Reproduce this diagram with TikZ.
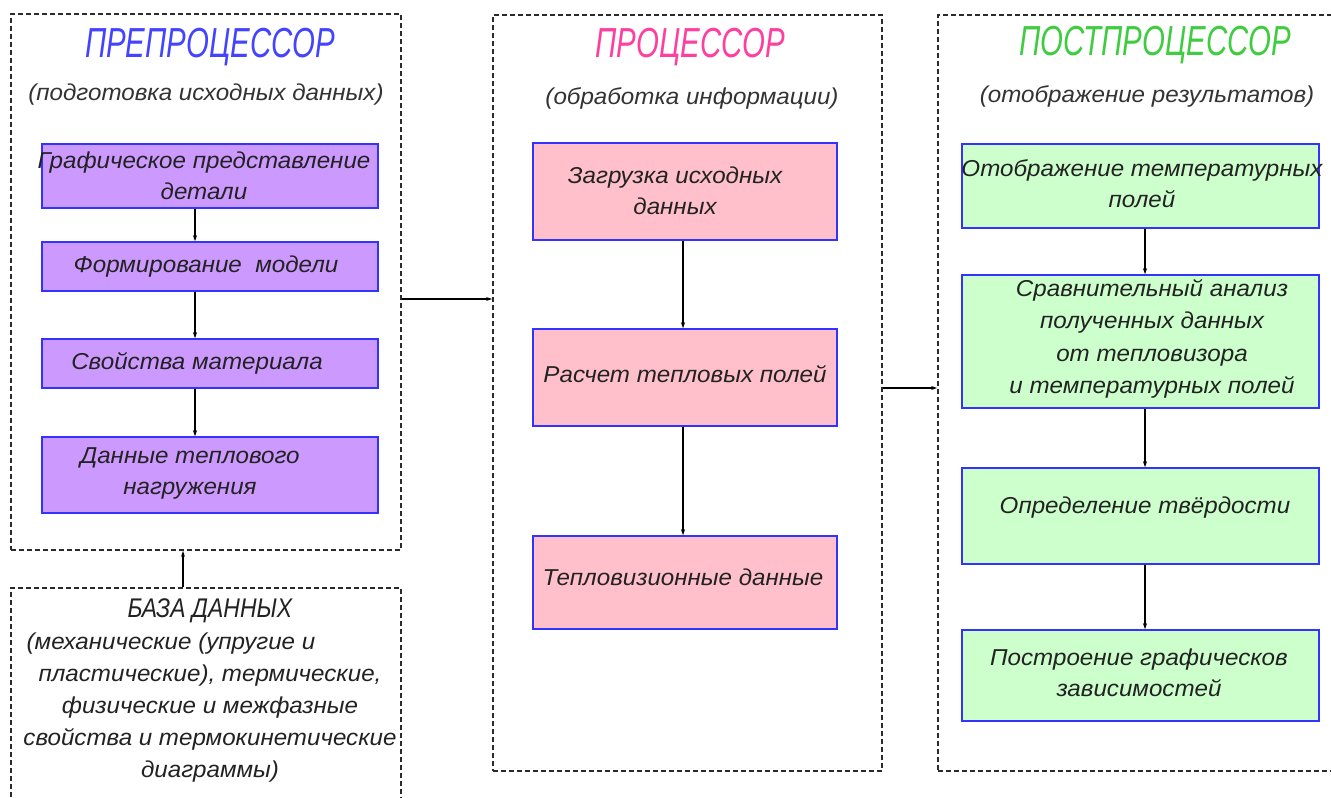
\documentclass[tikz,border=0pt]{standalone}
\usepackage{fontspec}
\newfontfamily\gost{Liberation Sans}[FakeStretch=1.05]
\newfontfamily\gostT{Liberation Sans}[FakeStretch=0.7]
\newfontfamily\gostM{Liberation Sans}[FakeStretch=0.85]
\usetikzlibrary{arrows.meta}
\definecolor{framec}{HTML}{2A2A2A}
\definecolor{subc}{HTML}{333333}
\definecolor{boxc}{HTML}{3333FF}
\definecolor{txtc}{HTML}{222222}
\definecolor{purplef}{HTML}{CC99FF}
\definecolor{pinkf}{HTML}{FFC0CB}
\definecolor{greenf}{HTML}{CCFFCC}
\definecolor{tblue}{HTML}{4444FF}
\definecolor{tpink}{HTML}{FF3FA0}
\definecolor{tgreen}{HTML}{40CC40}
\begin{document}
\begin{tikzpicture}[x=1pt,y=-1pt,
  frame/.style={draw=framec, line width=1.8pt, dash pattern=on 5pt off 3pt, rectangle, inner sep=0pt},
  box/.style={draw=boxc, line width=1.5pt, rectangle, inner sep=0pt},
  lbl/.style={font=\gost\itshape\fontsize{23}{31}\selectfont, text=txtc, align=center, inner sep=0pt},
  ttl/.style={font=\gostT\itshape\fontsize{42}{42}\selectfont, inner sep=0pt},
  arr/.style={draw=black, line width=1.2pt, -{Stealth[length=6pt,width=4pt]}}]
\useasboundingbox (0,0) rectangle (1331,798);
\clip (0,0) rectangle (1331,798);
\fill[white] (0,0) rectangle (1331,798);

% frames
\node[frame, minimum width=390pt, minimum height=536pt] (F1) at (206,282) {};
\node[frame, minimum width=389pt, minimum height=756pt] (F2) at (687.5,393) {};
\node[frame, minimum width=407pt, minimum height=756pt] (F3) at (1141.5,393) {};
\node[frame, minimum width=390pt, minimum height=232pt] (DB) at (206,704) {};

% titles
\node[ttl, text=tblue] (T1) at (210,47) {ПРЕПРОЦЕССОР};
\node[ttl, text=tpink] (T2) at (690,47) {ПРОЦЕССОР};
\node[ttl, text=tgreen] (T3) at (1155,45) {ПОСТПРОЦЕССОР};
\node[lbl, text=subc] (S1) at (206,95) {(подготовка исходных данных)};
\node[lbl, text=subc] (S2) at (692,98) {(обработка информации)};
\node[lbl, text=subc] (S3) at (1147,96) {(отображение результатов)};

% left column
\node[box, fill=purplef, minimum width=336pt, minimum height=64pt] (p1) at (210,176) {};
\node[box, fill=purplef, minimum width=336pt, minimum height=49pt] (p2) at (210,266.5) {};
\node[box, fill=purplef, minimum width=336pt, minimum height=49pt] (p3) at (210,363.5) {};
\node[box, fill=purplef, minimum width=336pt, minimum height=76pt] (p4) at (210,475) {};
\node[lbl] (p1t) at (204,176) {Графическое представление\\детали};
\node[lbl] (p2t) at (206,267) {Формирование\ \ модели};
\node[lbl] (p3t) at (197,363) {Свойства материала};
\node[lbl] (p4t) at (190,473) {Данные теплового\\нагружения};

% middle column
\node[box, fill=pinkf, minimum width=304pt, minimum height=97pt] (m1) at (685,191.5) {};
\node[box, fill=pinkf, minimum width=304pt, minimum height=97pt] (m2) at (685,377.5) {};
\node[box, fill=pinkf, minimum width=304pt, minimum height=93pt] (m3) at (685,582.5) {};
\node[lbl] (m1t) at (675,191) {Загрузка исходных\\данных};
\node[lbl] (m2t) at (685,374) {Расчет тепловых полей};
\node[lbl] (m3t) at (683,577) {Тепловизионные данные};

% right column
\node[box, fill=greenf, minimum width=357pt, minimum height=84pt] (r1) at (1140.5,186) {};
\node[box, fill=greenf, minimum width=357pt, minimum height=133pt] (r2) at (1140.5,341.5) {};
\node[box, fill=greenf, minimum width=357pt, minimum height=96pt] (r3) at (1140.5,516) {};
\node[box, fill=greenf, minimum width=357pt, minimum height=91pt] (r4) at (1140.5,675.5) {};
\node[lbl] (r1t) at (1142,184) {Отображение температурных\\полей};
\node[lbl, font=\gost\itshape\fontsize{23}{32.5}\selectfont] (r2t) at (1152,339) {Сравнительный анализ\\полученных данных\\от тепловизора\\и температурных полей};
\node[lbl] (r3t) at (1145,508) {Определение твёрдости};
\node[lbl] (r4t) at (1139,673) {Построение графическов\\зависимостей};

% database text
\node[lbl, font=\gost\itshape\fontsize{23}{32}\selectfont] (dbt) at (210,690) {{\gostM\fontsize{27}{32}\selectfont БАЗА ДАННЫХ}\\(механические (упругие и\rule{78pt}{0pt}\\пластические), термические,\\физические и межфазные\\свойства и термокинетические\\диаграммы)};

% connector columns
\coordinate (xL) at (195,0);
\coordinate (xM) at (683,0);
\coordinate (xR) at (1145,0);
\coordinate (xD) at (183,0);
\coordinate (yA) at (0,299);
\coordinate (yB) at (0,388);

\draw[arr] (p1.south -| xL) -- (p2.north -| xL);
\draw[arr] (p2.south -| xL) -- (p3.north -| xL);
\draw[arr] (p3.south -| xL) -- (p4.north -| xL);
\draw[arr] (m1.south -| xM) -- (m2.north -| xM);
\draw[arr] (m2.south -| xM) -- (m3.north -| xM);
\draw[arr] (r1.south -| xR) -- (r2.north -| xR);
\draw[arr] (r2.south -| xR) -- (r3.north -| xR);
\draw[arr] (r3.south -| xR) -- (r4.north -| xR);
\draw[arr] (F1.east |- yA) -- (F2.west |- yA);
\draw[arr] (F2.east |- yB) -- (F3.west |- yB);
\draw[arr] (DB.north -| xD) -- (F1.south -| xD);
\end{tikzpicture}
\end{document}
